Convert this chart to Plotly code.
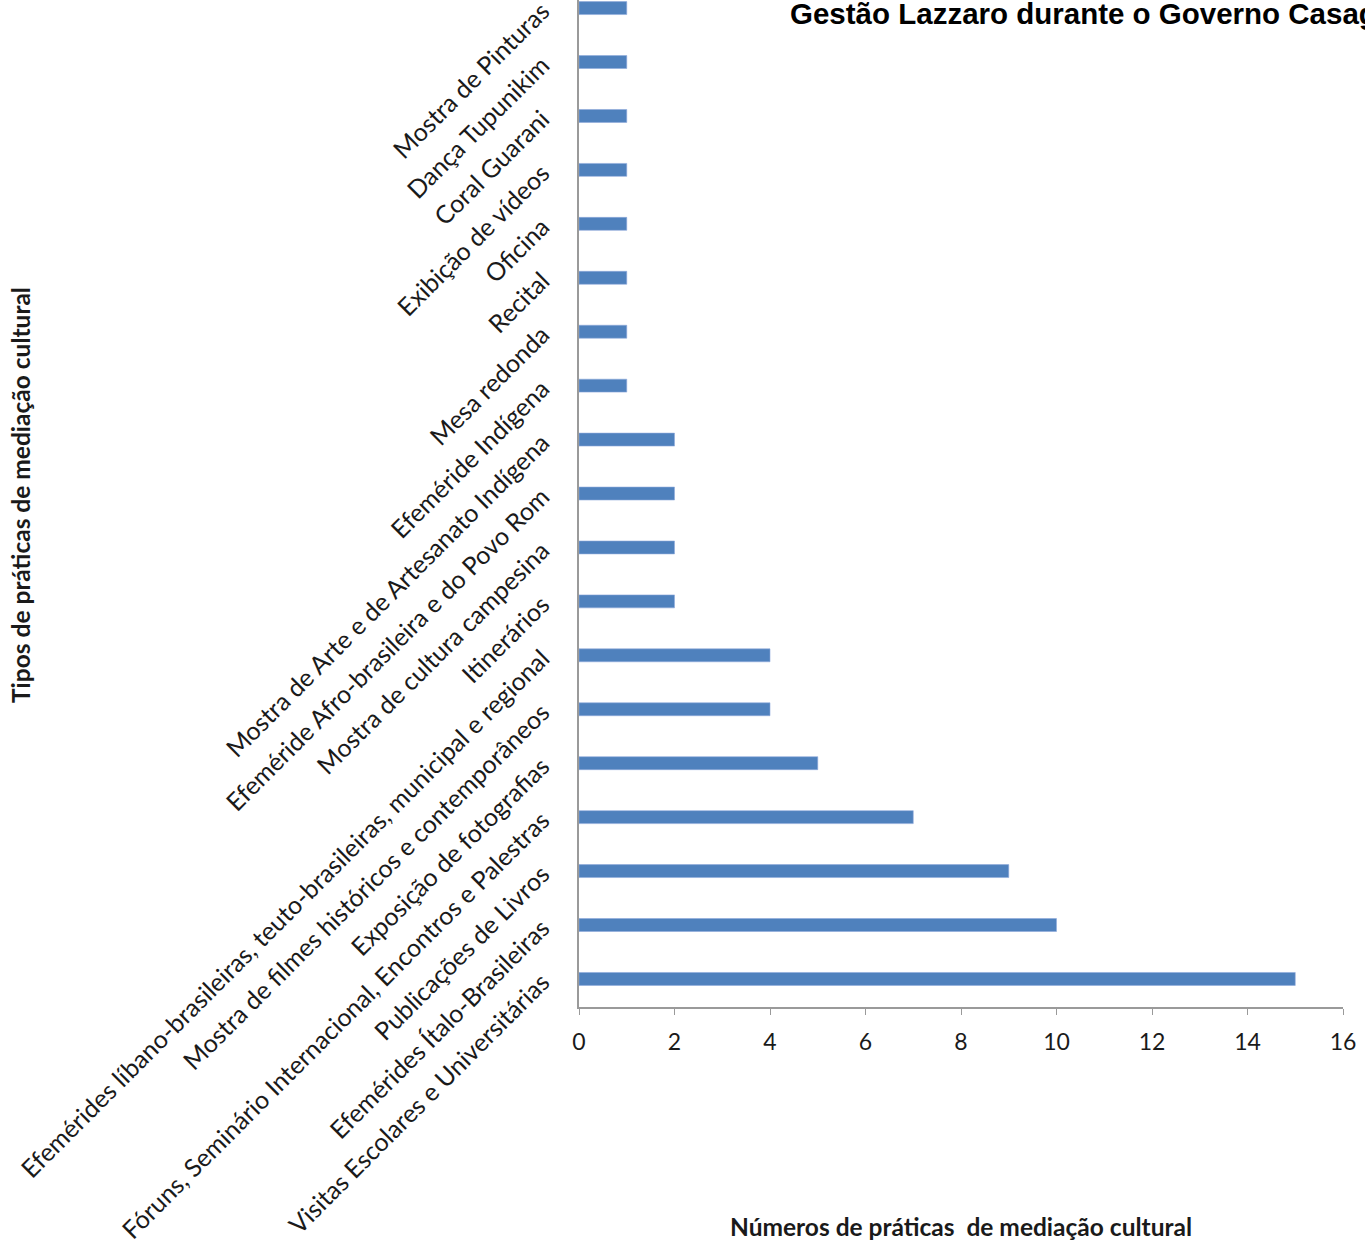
import plotly.graph_objects as go

categories = [
    "Visitas Escolares e Universitárias",
    "Efemérides Ítalo-Brasileiras",
    "Publicações de Livros",
    "Fóruns, Seminário Internacional, Encontros e Palestras",
    "Exposição de fotografias",
    "Mostra de filmes históricos e contemporâneos",
    "Efemérides líbano-brasileiras, teuto-brasileiras, municipal e regional",
    "Itinerários",
    "Mostra de cultura campesina",
    "Efeméride Afro-brasileira e do Povo Rom",
    "Mostra de Arte e de Artesanato Indígena",
    "Efeméride Indígena",
    "Mesa redonda",
    "Recital",
    "Oficina",
    "Exibição de vídeos",
    "Coral Guarani",
    "Dança Tupunikim",
    "Mostra de Pinturas",
]
values = [15, 10, 9, 7, 5, 4, 4, 2, 2, 2, 2, 1, 1, 1, 1, 1, 1, 1, 1]
x_ticks = [0, 2, 4, 6, 8, 10, 12, 14, 16]

title_text = "Gestão Lazzaro durante o Governo Casag"
x_title = "Números de práticas  de mediação cultural"
y_title = "Tipos de práticas de mediação cultural"

W, H = 1365, 1245
L, R, T, B = 579, 22, 0, 238
pw = W - L - R
ph = H - T - B

def px_x(p):
    return (p - L) / pw

def px_y(p):
    return 1 - (p - T) / ph

FONT = "Lato, Open Sans, sans-serif"

fig = go.Figure()
fig.add_trace(go.Bar(
    y=categories, x=values, orientation="h",
    width=0.24,
    marker=dict(color="#4F81BD", line=dict(color="#8EAADB", width=0.6)),
))

fig.update_layout(
    width=W, height=H,
    margin=dict(l=L, r=R, t=T, b=B, autoexpand=False),
    paper_bgcolor="white", plot_bgcolor="white",
    showlegend=False,
    font=dict(family=FONT, color="#1a1a1a"),
    xaxis=dict(
        range=[0, 16], tickvals=x_ticks, ticktext=[str(v) for v in x_ticks],
        ticks="outside", ticklen=6, tickcolor="#9a9a9a", tickwidth=1,
        showline=True, linecolor="#9a9a9a", linewidth=1.5,
        showgrid=False, zeroline=False,
        tickfont=dict(size=23, family=FONT, color="#1a1a1a"),
        ticklabelstandoff=8,
        automargin=False,
    ),
    yaxis=dict(
        categoryorder="array", categoryarray=categories,
        range=[-0.52, 18.15],
        tickangle=-45,
        ticks="", showline=True, linecolor="#9a9a9a", linewidth=1.5,
        showgrid=False, zeroline=False,
        tickfont=dict(size=25, family=FONT, color="#1a1a1a"),
        ticklabelstandoff=30,
        automargin=False,
    ),
    annotations=[
        dict(text="<b>" + title_text + "</b>", xref="paper", yref="paper",
             x=px_x(788), y=px_y(13), xanchor="left", yanchor="middle",
             showarrow=False,
             font=dict(family="Liberation Sans, Arial, sans-serif", size=29.5, color="black")),
        dict(text="<b>" + x_title + "</b>", xref="paper", yref="paper",
             x=px_x(961), y=px_y(1226), xanchor="center", yanchor="middle",
             showarrow=False,
             font=dict(family=FONT, size=24.5, color="#1a1a1a")),
        dict(text="<b>" + y_title + "</b>", xref="paper", yref="paper",
             x=px_x(20), y=px_y(495), xanchor="center", yanchor="middle",
             textangle=-90, showarrow=False,
             font=dict(family=FONT, size=24.5, color="#1a1a1a")),
    ],
)

fig.write_html("out.html")
